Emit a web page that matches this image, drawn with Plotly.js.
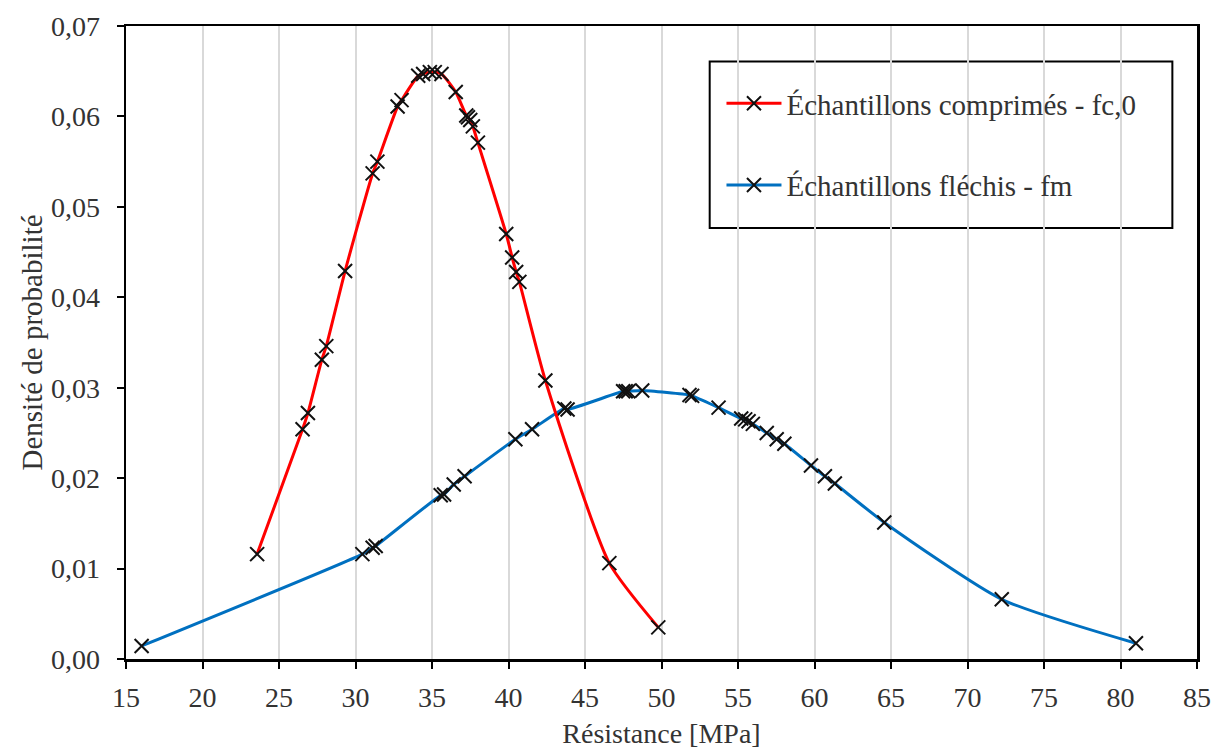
<!DOCTYPE html>
<html>
<head>
<meta charset="utf-8">
<script src="https://cdn.plot.ly/plotly-3.0.1.min.js"></script>
<style>html,body{margin:0;padding:0;background:#fff;}#chart{width:1216px;height:753px;}</style>
</head>
<body>
<div id="chart"></div>
<script>
// Échantillons comprimés - fc,0
const fc0X = [23.57, 26.54, 26.89, 27.80, 28.09, 29.32, 31.12, 31.43, 32.75, 33.01, 34.10, 34.42, 34.86, 35.18, 35.62, 36.55, 37.24, 37.35, 37.50, 37.67, 38.00, 39.85, 40.24, 40.50, 40.71, 42.41, 46.59, 49.79];
const fc0Y = [0.0116, 0.0254, 0.0272, 0.0331, 0.0346, 0.0429, 0.0537, 0.0550, 0.0611, 0.0618, 0.0645, 0.0647, 0.0649, 0.0649, 0.0647, 0.0627, 0.0601, 0.0599, 0.0596, 0.0589, 0.0571, 0.0470, 0.0444, 0.0428, 0.0417, 0.0308, 0.0106, 0.0035];
// Échantillons fléchis - fm
const fmX = [16.02, 30.45, 31.12, 31.32, 35.57, 35.79, 36.42, 37.13, 40.45, 41.54, 43.65, 43.86, 47.49, 47.66, 47.83, 48.74, 51.83, 52.00, 53.73, 55.21, 55.47, 55.69, 55.97, 56.88, 57.53, 58.03, 59.77, 60.68, 61.33, 64.56, 72.24, 81.01];
const fmY = [0.00144, 0.0116, 0.0123, 0.0125, 0.0181, 0.0182, 0.0193, 0.0202, 0.0243, 0.0254, 0.0277, 0.0276, 0.0296, 0.0296, 0.0296, 0.0297, 0.0292, 0.0291, 0.0278, 0.0266, 0.0265, 0.0263, 0.0260, 0.0250, 0.0243, 0.0238, 0.0214, 0.0202, 0.0194, 0.0151, 0.0066, 0.00174];
const seriesNames = ['Échantillons comprimés - fc,0', 'Échantillons fléchis - fm'];
const xTicks = [15, 20, 25, 30, 35, 40, 45, 50, 55, 60, 65, 70, 75, 80, 85];
const yTicks = [0, 0.01, 0.02, 0.03, 0.04, 0.05, 0.06, 0.07];

const FONT = 'Liberation Serif, DejaVu Serif, serif';
const TXT = '#333333';
const markerStyle = {symbol: 'x-thin', size: 14, color: '#000', line: {color: '#111', width: 2}};

const traces = [
  {x: fmX, y: fmY, name: seriesNames[1], type: 'scatter', mode: 'lines+markers', legendrank: 2,
   legendgroup: 'b', line: {color: '#0070c0', width: 3, shape: 'spline', smoothing: 0.6}, marker: markerStyle},
  {x: fc0X, y: fc0Y, name: seriesNames[0], type: 'scatter', mode: 'lines+markers', legendrank: 1,
   legendgroup: 'a', line: {color: '#ff0000', width: 3, shape: 'spline', smoothing: 0.6}, marker: markerStyle}
];

const layout = {
  width: 1216, height: 753,
  margin: {l: 126, r: 19, t: 26, b: 94},
  paper_bgcolor: '#fff', plot_bgcolor: '#fff',
  separators: ', ',
  font: {family: FONT, size: 28, color: TXT},
  showlegend: true,
  legend: {x: 0.556, y: 0.918, xanchor: 'left', yanchor: 'top', bgcolor: 'rgba(0,0,0,0)', borderwidth: 0,
           font: {family: FONT, size: 29, color: TXT}, tracegroupgap: 41, traceorder: 'grouped', itemwidth: 55},
  xaxis: {range: [15, 85], tickvals: xTicks, ticktext: xTicks.map(String),
          showgrid: true, gridcolor: '#d9d9d9', gridwidth: 2,
          showline: true, linecolor: '#000', linewidth: 2.5, mirror: true,
          ticks: 'outside', ticklen: 7, tickwidth: 2, tickcolor: '#000', ticklabelstandoff: 5,
          zeroline: false, automargin: false, tickfont: {family: FONT, size: 28, color: TXT},
          title: {text: 'Résistance [MPa]', font: {family: FONT, size: 28, color: TXT}, standoff: 12}},
  yaxis: {range: [0, 0.07], tickvals: yTicks, tickformat: '.2f',
          showgrid: false,
          showline: true, linecolor: '#000', linewidth: 2.5, mirror: true,
          ticks: 'outside', ticklen: 7, tickwidth: 2, tickcolor: '#000', ticklabelstandoff: 11,
          zeroline: false, automargin: false, tickfont: {family: FONT, size: 28, color: TXT},
          title: {text: 'Densité de probabilité', font: {family: FONT, size: 29, color: TXT}, standoff: 0}},
  shapes: [
    {type: 'rect', xref: 'paper', yref: 'paper', x0: 0.545, x1: 0.977, y0: 0.681, y1: 0.944,
     line: {color: '#000', width: 2}, fillcolor: 'rgba(255,255,255,1)', layer: 'below'}
  ]
};

Plotly.newPlot('chart', traces, layout, {displayModeBar: false, staticPlot: true});
</script>
</body>
</html>
